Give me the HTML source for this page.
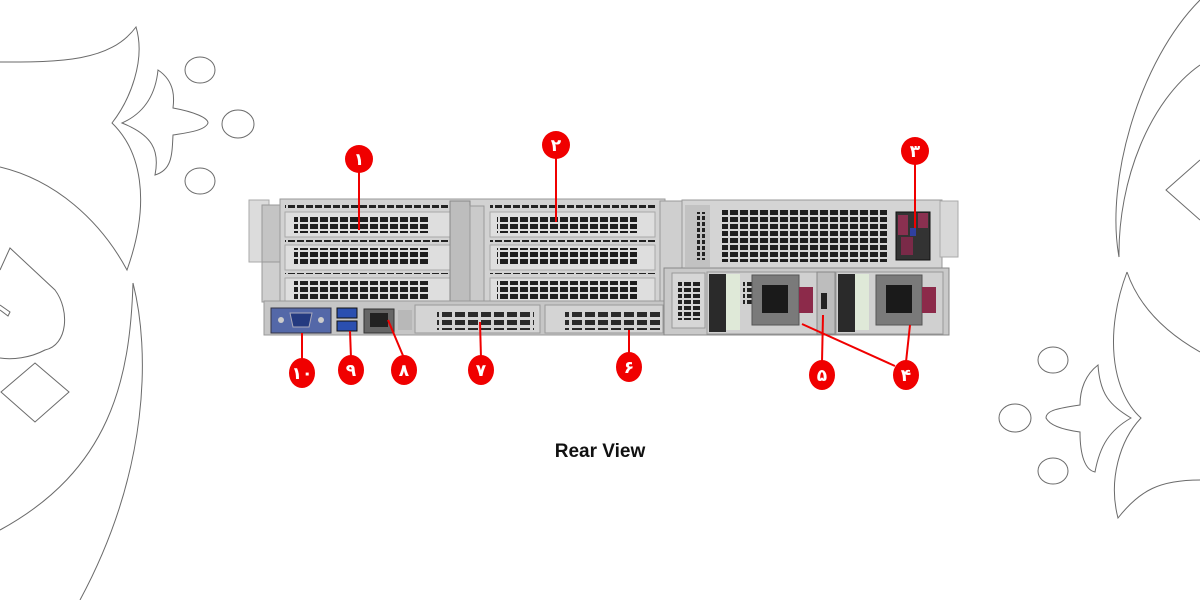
<!DOCTYPE html>
<html><head><meta charset="utf-8"><style>
html,body{margin:0;padding:0;background:#fff;}
svg{display:block;}
</style></head><body>
<svg width="1200" height="600" viewBox="0 0 1200 600" xmlns="http://www.w3.org/2000/svg">
<defs>
<pattern id="vg" x="0" y="0" width="10" height="7" patternUnits="userSpaceOnUse"><rect x="0" y="0" width="8" height="5" fill="#1e1e1e"/></pattern>
<pattern id="vgs" x="0" y="0" width="9" height="6" patternUnits="userSpaceOnUse"><rect x="0" y="0" width="7" height="4" fill="#222"/></pattern>
<pattern id="vgl" x="0" y="0" width="13" height="8" patternUnits="userSpaceOnUse"><rect x="0" y="0" width="10" height="5" fill="#2a2a2a"/></pattern>
</defs>
<rect width="1200" height="600" fill="#fff"/>
<!-- decorations left -->
<g fill="none" stroke="#6a6a6a" stroke-width="1">
<path d="M0,62 C60,62 110,62 136,27 C146,60 130,100 112,123 C140,150 152,200 127,270 C100,220 55,180 0,167"/>
<path d="M158,70 C176,82 174,100 173,108 C195,112 208,118 208,123 C205,131 185,133 173,135 C172,155 172,170 155,175 C160,150 152,135 122,123 C140,115 155,100 158,70 Z"/>
<ellipse cx="200" cy="70" rx="15" ry="13"/>
<ellipse cx="238" cy="124" rx="16" ry="14"/>
<ellipse cx="200" cy="181" rx="15" ry="13"/>
<path d="M0,270 L10,248 L55,290 C70,310 68,345 45,350 C30,358 12,360 0,358"/>
<path d="M0,305 L10,312 L8,316 L0,310"/>
<path d="M35,363 L69,392 L35,422 L1,392 Z"/>
<path d="M133,283 C130,380 110,470 0,530"/>
<path d="M133,283 C150,350 150,470 80,600"/>
</g>
<!-- decorations right -->
<g fill="none" stroke="#6a6a6a" stroke-width="1">
<path d="M1200,0 C1140,60 1105,180 1119,257 C1118,180 1150,100 1200,65"/>
<path d="M1200,160 L1166,190 L1200,220"/>
<path d="M1127,272 C1105,330 1110,390 1141,418 C1120,440 1108,480 1118,518 C1140,490 1160,480 1200,480"/>
<path d="M1127,272 C1140,310 1170,335 1200,352"/>
<path d="M1098,365 C1085,375 1080,390 1080,405 C1060,408 1046,410 1046,418 C1050,426 1065,430 1080,432 C1080,455 1085,470 1095,472 C1100,445 1110,430 1131,418 C1110,405 1100,395 1098,365 Z"/>
<ellipse cx="1053" cy="360" rx="15" ry="13"/>
<ellipse cx="1015" cy="418" rx="16" ry="14"/>
<ellipse cx="1053" cy="471" rx="15" ry="13"/>
</g>
<!-- server -->
<g>
<rect x="249" y="200" width="20" height="62" fill="#dcdcdc" stroke="#aaa"/>
<rect x="262" y="205" width="20" height="95" fill="#c4c4c4" stroke="#999"/>
<rect x="262" y="262" width="20" height="40" fill="#cfcfcf" stroke="#999"/>
<rect x="280" y="199" width="385" height="104" fill="#d2d2d2" stroke="#9a9a9a"/>
<!-- slots left -->
<g>
<rect x="285" y="205" width="165" height="3" fill="url(#vgs)"/>
<rect x="285" y="212" width="165" height="25" fill="#dedede" stroke="#a8a8a8"/>
<rect x="294" y="215" width="134" height="18" fill="url(#vg)"/>
<rect x="285" y="239" width="165" height="3" fill="url(#vgs)"/>
<rect x="285" y="245" width="165" height="25" fill="#dedede" stroke="#a8a8a8"/>
<rect x="294" y="248" width="134" height="18" fill="url(#vg)"/>
<rect x="285" y="273" width="165" height="3" fill="url(#vgs)"/>
<rect x="285" y="278" width="165" height="23" fill="#dedede" stroke="#a8a8a8"/>
<rect x="294" y="281" width="134" height="18" fill="url(#vg)"/>
</g>
<rect x="450" y="201" width="20" height="102" fill="#bdbdbd" stroke="#888"/>
<rect x="470" y="206" width="14" height="96" fill="#cacaca" stroke="#999"/>
<g>
<rect x="490" y="205" width="165" height="3" fill="url(#vgs)"/>
<rect x="490" y="212" width="165" height="25" fill="#dedede" stroke="#a8a8a8"/>
<rect x="497" y="215" width="140" height="18" fill="url(#vg)"/>
<rect x="490" y="239" width="165" height="3" fill="url(#vgs)"/>
<rect x="490" y="245" width="165" height="25" fill="#dedede" stroke="#a8a8a8"/>
<rect x="497" y="248" width="140" height="18" fill="url(#vg)"/>
<rect x="490" y="273" width="165" height="3" fill="url(#vgs)"/>
<rect x="490" y="278" width="165" height="23" fill="#dedede" stroke="#a8a8a8"/>
<rect x="497" y="281" width="140" height="18" fill="url(#vg)"/>
</g>
<!-- bottom strip -->
<rect x="264" y="301" width="402" height="34" fill="#c6c6c6" stroke="#999"/>
<rect x="271" y="308" width="60" height="25" fill="#5468a8" stroke="#334"/>
<path d="M290,313 h22 l-3,14 h-16 z" fill="#243a80" stroke="#aab"/>
<circle cx="281" cy="320" r="3" fill="#ccc"/><circle cx="321" cy="320" r="3" fill="#ccc"/>
<rect x="337" y="308" width="20" height="10" fill="#2b4fb0" stroke="#111"/>
<rect x="337" y="321" width="20" height="10" fill="#2b4fb0" stroke="#111"/>
<rect x="364" y="309" width="30" height="24" fill="#666" stroke="#333"/>
<rect x="370" y="313" width="18" height="14" fill="#222"/>
<rect x="398" y="310" width="14" height="20" fill="#b8b8b8"/>
<rect x="415" y="305" width="125" height="28" fill="#d4d4d4" stroke="#999"/>
<rect x="437" y="310" width="97" height="20" fill="url(#vgl)"/>
<rect x="545" y="305" width="118" height="28" fill="#d4d4d4" stroke="#999"/>
<rect x="565" y="310" width="95" height="20" fill="url(#vgl)"/>
<!-- right top -->
<rect x="660" y="201" width="22" height="100" fill="#cfcfcf" stroke="#999"/>
<rect x="682" y="200" width="260" height="68" fill="#d4d4d4" stroke="#999"/>
<rect x="685" y="205" width="25" height="62" fill="#c2c2c2"/>
<rect x="697" y="212" width="8" height="48" fill="url(#vgs)"/>
<rect x="722" y="210" width="165" height="52" fill="url(#vg)"/>
<rect x="896" y="212" width="34" height="48" fill="#333" stroke="#111"/>
<rect x="898" y="215" width="10" height="20" fill="#8a3050"/><rect x="918" y="213" width="10" height="15" fill="#8a3050"/>
<rect x="901" y="237" width="12" height="18" fill="#7a2a48"/><rect x="910" y="228" width="6" height="8" fill="#3040a0"/>
<rect x="940" y="201" width="18" height="56" fill="#d8d8d8" stroke="#aaa"/>
<!-- PSUs -->
<rect x="664" y="268" width="285" height="67" fill="#c9c9c9" stroke="#888"/>
<rect x="672" y="273" width="33" height="55" fill="#d6d6d6" stroke="#999"/>
<rect x="678" y="280" width="22" height="40" fill="url(#vgs)"/>
<rect x="707" y="272" width="110" height="62" fill="#d0d0d0" stroke="#999"/>
<rect x="709" y="274" width="17" height="58" fill="#2a2a2a"/>
<rect x="726" y="274" width="14" height="56" fill="#dfe9d8"/>
<rect x="743" y="280" width="12" height="26" fill="url(#vgs)"/>
<rect x="752" y="275" width="47" height="50" fill="#7a7a7a" stroke="#555"/>
<rect x="762" y="285" width="26" height="28" fill="#1a1a1a"/>
<rect x="799" y="287" width="14" height="26" fill="#8c2a4a"/>
<rect x="817" y="272" width="18" height="62" fill="#bdbdbd" stroke="#888"/>
<rect x="821" y="293" width="6" height="16" fill="#222"/>
<rect x="836" y="272" width="107" height="62" fill="#d0d0d0" stroke="#999"/>
<rect x="838" y="274" width="17" height="58" fill="#2a2a2a"/>
<rect x="855" y="274" width="14" height="56" fill="#dfe9d8"/>
<rect x="876" y="275" width="46" height="50" fill="#7a7a7a" stroke="#555"/>
<rect x="886" y="285" width="26" height="28" fill="#1a1a1a"/>
<rect x="922" y="287" width="14" height="26" fill="#8c2a4a"/>
</g>
<!-- leader lines -->
<g stroke="#f00000" stroke-width="2" fill="none">
<line x1="359" y1="170" x2="359" y2="230"/>
<line x1="556" y1="157" x2="556" y2="222"/>
<line x1="915" y1="163" x2="915" y2="228"/>
<line x1="302" y1="360" x2="302" y2="333"/>
<line x1="351" y1="358" x2="350" y2="331"/>
<line x1="404" y1="358" x2="388" y2="320"/>
<line x1="481" y1="358" x2="480" y2="322"/>
<line x1="629" y1="355" x2="629" y2="330"/>
<line x1="822" y1="362" x2="823" y2="315"/>
<line x1="895" y1="366" x2="802" y2="324"/>
<line x1="906" y1="362" x2="910" y2="325"/>
</g>
<g fill="#f00000">
<ellipse cx="359" cy="159" rx="14" ry="14"/>
<ellipse cx="556" cy="145" rx="14" ry="14"/>
<ellipse cx="915" cy="151" rx="14" ry="14"/>
<ellipse cx="302" cy="373" rx="13" ry="15"/>
<ellipse cx="351" cy="370" rx="13" ry="15"/>
<ellipse cx="404" cy="370" rx="13" ry="15"/>
<ellipse cx="481" cy="370" rx="13" ry="15"/>
<ellipse cx="629" cy="367" rx="13" ry="15"/>
<ellipse cx="822" cy="375" rx="13" ry="15"/>
<ellipse cx="906" cy="375" rx="13" ry="15"/>
</g>
<g fill="#fff" font-family="'DejaVu Sans', 'Noto Sans CJK SC', sans-serif" font-weight="bold" font-size="17" text-anchor="middle">
<text x="359" y="165">۱</text>
<text x="556" y="151">۲</text>
<text x="915" y="157">۳</text>
<text x="302" y="379">۱۰</text>
<text x="351" y="376">۹</text>
<text x="404" y="376">۸</text>
<text x="481" y="376">۷</text>
<text x="629" y="373">۶</text>
<text x="822" y="381">۵</text>
<text x="906" y="381">۴</text>
</g>
<text x="600" y="457" text-anchor="middle" font-family="'Liberation Sans', sans-serif" font-weight="bold" font-size="19" fill="#111">Rear View</text>
</svg>
</body></html>
